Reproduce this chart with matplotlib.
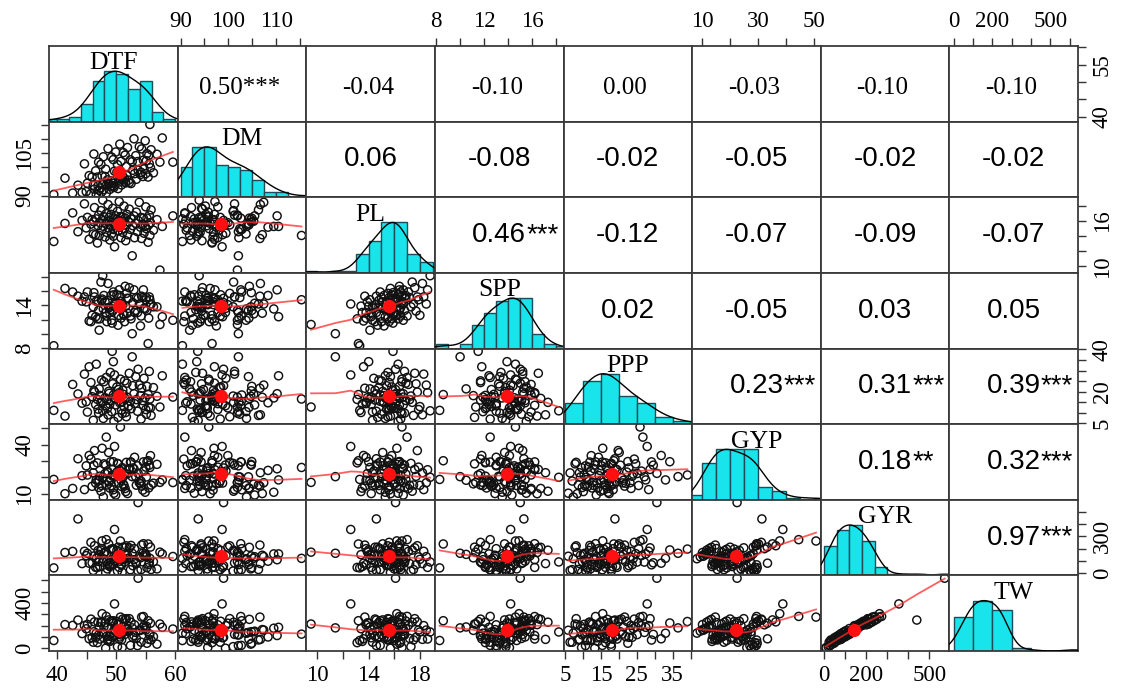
import numpy as np
import matplotlib
matplotlib.use("Agg")
import matplotlib.pyplot as plt
from matplotlib.ticker import FixedLocator, FixedFormatter

plt.rcParams['font.family'] = ['Liberation Serif', 'DejaVu Serif']

names = ["DTF", "DM", "PL", "SPP", "PPP", "GYP", "GYR", "TW"]

dtf = [39.4, 41.3, 42.6, 43.5, 44.2, 44.6, 44.9, 45.1, 45.4, 45.7,
       45.9, 46.1, 46.2, 46.3, 46.5, 46.6, 46.8, 46.9, 47.0, 47.1,
       47.2, 47.4, 47.5, 47.6, 47.7, 47.8, 47.9, 48.1, 48.2, 48.3,
       48.4, 48.5, 48.6, 48.7, 48.8, 48.9, 49.0, 49.1, 49.2, 49.3,
       49.4, 49.5, 49.6, 49.7, 49.8, 49.9, 49.5, 50.1, 50.2, 50.3,
       50.4, 50.5, 50.6, 50.7, 50.8, 50.9, 51.0, 51.1, 51.2, 51.3,
       51.4, 51.5, 51.6, 51.7, 51.8, 51.9, 52.1, 52.2, 52.4, 52.5,
       52.7, 52.8, 53.0, 53.1, 53.3, 53.4, 53.6, 53.7, 53.9, 54.1,
       54.2, 54.3, 54.5, 54.6, 54.7, 54.9, 55.0, 55.1, 55.2, 55.4,
       55.5, 55.6, 55.7, 55.8, 55.9, 56.3, 56.9, 57.4, 57.8, 59.6]

dm = [90.4, 96.2, 90.9, 93.7, 91.1, 101.3, 91.4, 94.4, 97.1, 90.7,
      96.6, 93.7, 104.8, 92.3, 98.8, 90.4, 96.6, 93.5, 101.9, 91.9,
      92.7, 101.1, 91.2, 97.0, 93.9, 103.8, 92.1, 96.8, 99.4, 90.9,
      94.1, 95.6, 106.7, 94.3, 94.0, 92.2, 93.2, 95.3, 103.7, 93.6,
      94.4, 102.8, 92.9, 98.7, 95.5, 105.5, 93.4, 98.4, 101.0, 92.5,
      94.8, 97.2, 108.3, 95.9, 102.2, 93.8, 95.7, 96.9, 105.3, 95.2,
      96.0, 104.4, 94.5, 100.3, 97.1, 107.1, 95.5, 94.6, 102.7, 94.3,
      102.1, 99.0, 110.2, 97.8, 104.2, 95.8, 102.1, 99.0, 107.4, 97.5,
      98.3, 106.6, 96.8, 102.6, 99.5, 109.5, 97.8, 102.4, 104.9, 96.6,
      104.3, 101.3, 115.3, 99.9, 106.3, 98.1, 104.7, 101.9, 110.5, 101.9]

pl = [13.3, 15.7, 17.1, 14.6, 16.1, 18.3, 15.1, 16.5, 13.6, 15.6,
      16.2, 14.3, 15.9, 17.8, 14.2, 16.3, 13.1, 15.4, 16.8, 14.1,
      15.8, 17.4, 14.8, 16.2, 18.8, 15.3, 16.6, 13.9, 15.7, 17.0,
      14.5, 16.0, 18.2, 15.1, 16.5, 13.5, 15.5, 16.9, 14.3, 15.9,
      17.7, 14.9, 16.3, 12.6, 15.4, 16.7, 14.0, 15.8, 17.3, 14.7,
      16.1, 18.6, 15.2, 16.6, 13.8, 15.6, 16.6, 14.5, 16.0, 18.0,
      15.0, 16.4, 13.4, 15.5, 16.9, 14.2, 15.9, 17.6, 14.9, 16.3,
      11.4, 15.4, 16.7, 13.8, 15.7, 17.2, 14.6, 16.1, 18.5, 15.2,
      16.5, 13.7, 15.6, 16.4, 14.4, 15.3, 17.9, 15.0, 16.4, 13.2,
      15.5, 16.8, 14.1, 15.8, 17.5, 14.8, 16.2, 9.5, 15.3, 16.7]

spp = [8.3, 16.4, 15.9, 15.3, 14.6, 15.2, 14.5, 15.9, 11.8, 11.7,
       12.6, 13.8, 15.8, 15.2, 12.4, 14.6, 12.1, 14.6, 13.3, 10.5,
       12.1, 17.3, 14.7, 14.9, 18.2, 13.5, 15.4, 14.5, 13.0, 12.5,
       11.7, 14.7, 17.1, 13.7, 13.7, 13.0, 13.4, 15.4, 11.9, 11.5,
       13.2, 15.9, 15.5, 14.2, 14.2, 14.3, 13.9, 15.5, 13.8, 11.2,
       12.6, 16.2, 15.4, 14.6, 12.2, 14.2, 14.1, 14.1, 12.8, 12.6,
       11.7, 16.7, 13.9, 15.7, 15.0, 12.9, 15.0, 16.5, 12.5, 12.1,
       10.0, 14.4, 16.2, 13.0, 13.3, 15.1, 13.0, 15.0, 14.2, 11.1,
       12.5, 15.3, 15.1, 16.2, 13.6, 13.5, 14.8, 15.1, 13.3, 8.6,
       12.2, 15.2, 14.8, 14.1, 14.2, 13.8, 13.8, 11.3, 12.4, 11.9]

ppp = [11.1, 8.4, 23.4, 18.9, 14.5, 28.3, 15.2, 10.3, 31.8, 24.3,
       17.6, 6.4, 20.4, 19.8, 13.9, 33.0, 16.3, 11.7, 9.8, 21.3,
       18.2, 14.9, 25.5, 15.5, 10.9, 7.3, 24.7, 17.1, 13.3, 26.7,
       16.0, 12.1, 9.0, 20.1, 19.2, 14.1, 29.1, 15.8, 10.5, 39.1,
       23.7, 18.4, 5.9, 27.9, 16.6, 13.7, 34.2, 22.2, 17.9, 7.8,
       21.0, 19.5, 14.7, 25.9, 15.1, 11.3, 9.6, 20.7, 18.7, 12.9,
       25.1, 16.8, 10.1, 8.1, 24.0, 17.3, 13.1, 28.7, 15.4, 11.9,
       36.5, 22.8, 19.0, 14.3, 27.1, 16.2, 10.7, 30.6, 23.1, 18.1,
       7.0, 21.6, 15.7, 13.5, 26.3, 17.0, 11.5, 9.3, 22.5, 18.6,
       12.5, 29.6, 16.5, 12.3, 8.7, 21.9, 17.8, 12.7, 27.5, 17.4]

gyp = [18.8, 10.1, 13.3, 31.4, 21.1, 12.6, 27.1, 21.5, 33.4, 31.2,
       14.6, 22.8, 27.5, 36.4, 16.6, 18.5, 28.9, 18.0, 13.9, 18.3,
       20.8, 11.6, 15.1, 37.8, 20.1, 8.1, 28.3, 22.4, 27.6, 44.6,
       15.4, 23.9, 22.9, 35.2, 17.5, 13.5, 29.5, 18.8, 15.0, 21.5,
       20.7, 12.5, 10.4, 38.9, 20.9, 9.3, 29.6, 23.3, 28.6, 28.3,
       16.7, 24.7, 24.3, 50.8, 18.3, 14.5, 26.0, 20.0, 15.9, 15.2,
       22.4, 13.3, 11.4, 29.2, 22.1, 10.2, 25.3, 24.9, 29.4, 29.4,
       20.5, 25.8, 25.3, 32.3, 20.4, 15.3, 27.1, 22.5, 16.8, 16.1,
       17.8, 14.7, 12.3, 29.5, 23.9, 11.0, 26.3, 20.3, 29.7, 30.2,
       13.6, 27.5, 26.1, 33.3, 15.4, 16.5, 28.0, 17.0, 18.5, 16.9]

gyr = [45, 169, 178, 440, 80, 179, 144, 162, 83, 251,
       85, 24, 141, 224, 49, 122, 49, 185, 97, 154,
       56, 188, 201, 263, 93, 119, 160, 174, 7, 273,
       96, 37, 80, 239, 61, 56, 70, 196, 111, 197,
       70, 200, 139, 355, 104, 135, 190, 186, 20, 212,
       113, 49, 99, 262, 72, 69, 10, 212, 123, 114,
       92, 211, 152, 223, 120, 147, 121, 207, 30, 226,
       163, 63, 111, 200, 92, 80, 25, 572, 136, 126,
       31, 229, 163, 240, 144, 158, 134, 147, 47, 238,
       72, 86, 122, 213, 32, 95, 37, 172, 158, 137]

tw = [70, 210, 203, 250, 131, 201, 173, 212, 85, 258,
      95, 55, 147, 234, 94, 134, 51, 230, 119, 189,
      83, 231, 228, 306, 145, 135, 191, 225, 2, 282,
      108, 70, 80, 251, 107, 62, 74, 242, 134, 237,
      98, 244, 160, 392, 157, 152, 224, 239, 16, 215,
      126, 83, 101, 276, 119, 76, 8, 259, 147, 145,
      122, 256, 174, 262, 175, 166, 148, 262, 27, 231,
      181, 98, 114, 208, 141, 88, 25, 618, 162, 159,
      55, 276, 186, 281, 201, 178, 162, 196, 46, 244,
      81, 124, 126, 222, 75, 104, 38, 215, 186, 171]

# upper triangle, row by row
corr_labels = [
    ["0.50***", "-0.04", "-0.10", "0.00", "-0.03", "-0.10", "-0.10"],
    ["0.06", "-0.08", "-0.02", "-0.05", "-0.02", "-0.02"],
    ["0.46***", "-0.12", "-0.07", "-0.09", "-0.07"],
    ["0.02", "-0.05", "0.03", "0.05"],
    ["0.23***", "0.31***", "0.39***"],
    ["0.18**", "0.32***"],
    ["0.97***"],
]

# histogram breaks
breaks = [np.arange(38, 62, 2), np.arange(90, 118, 2.5), np.arange(9, 20, 1),
          np.arange(8, 20, 1), np.arange(5, 45, 5), np.arange(5, 60, 5),
          np.arange(0, 660, 60), np.arange(0, 800, 100)]

# axis ticks and the labels R kept on horizontal / vertical axes
ticks = [[40, 45, 50, 55, 60], [90, 95, 100, 105, 110, 115], [10, 12, 14, 16, 18],
         [8, 10, 12, 14, 16, 18], [5, 10, 15, 20, 25, 30, 35, 40], [10, 20, 30, 40, 50],
         [0, 100, 200, 300, 400, 500, 600], [0, 100, 200, 300, 400, 500, 600]]
xlabs = [[40, 50, 60], [90, 100, 110], [10, 14, 18], [8, 12, 16],
         [5, 15, 25, 35], [10, 30, 50], [0, 200, 500], [0, 200, 500]]
ylabs = [[40, 55], [90, 105], [10, 16], [8, 14], [5, 20, 40], [10, 40], [0, 300], [0, 400]]

data = [np.array(v, float) for v in (dtf, dm, pl, spp, ppp, gyp, gyr, tw)]
n = len(names)


def lowess(x, y, f=2/3, iters=3):
    order = np.argsort(x, kind="stable")
    x = x[order]
    y = y[order]
    m = len(x)
    r = int(np.ceil(f * m))
    h = np.array([np.sort(np.abs(x - x[i]))[r - 1] for i in range(m)])
    h = np.maximum(h, 1e-9)
    w = np.clip(np.abs((x[:, None] - x[None, :]) / h[:, None]), 0, 1)
    w = (1 - w ** 3) ** 3
    yest = np.zeros(m)
    delta = np.ones(m)
    for _ in range(iters + 1):
        for i in range(m):
            wi = delta * w[i]
            sw = wi.sum()
            sx = (wi * x).sum()
            sy = (wi * y).sum()
            sxx = (wi * x * x).sum()
            sxy = (wi * x * y).sum()
            den = sw * sxx - sx * sx
            if abs(den) < 1e-12:
                yest[i] = sy / sw
            else:
                b = (sw * sxy - sx * sy) / den
                yest[i] = (sy - b * sx) / sw + b * x[i]
        res = y - yest
        s = np.median(np.abs(res))
        if s == 0:
            break
        u = np.clip(res / (6 * s), -1, 1)
        delta = (1 - u ** 2) ** 2
    return x, yest


def density(v):
    sd = v.std(ddof=1)
    q75, q25 = np.percentile(v, [75, 25])
    bw = 1.06 * min(sd, (q75 - q25) / 1.34) * len(v) ** -0.2 * 1.2
    grid = np.linspace(v.min() - 3 * bw, v.max() + 3 * bw, 512)
    d = np.exp(-0.5 * ((grid[:, None] - v[None, :]) / bw) ** 2).sum(axis=1)
    return grid, d / d.max()


lims = []
for v in data:
    pad = 0.04 * (v.max() - v.min())
    lims.append((v.min() - pad, v.max() + pad))

fig, axes = plt.subplots(n, n, figsize=(11.22, 6.92), dpi=100)
fig.subplots_adjust(left=0.0437, right=0.9608, bottom=0.0592, top=0.9335,
                    wspace=0, hspace=0)

sans = ['Liberation Sans Narrow', 'Liberation Sans', 'DejaVu Sans']

for r in range(n):
    for c in range(n):
        ax = axes[r, c]
        ax.set_xlim(lims[c])
        ax.set_xticks([])
        ax.set_yticks([])
        for sp in ax.spines.values():
            sp.set_color('#3a3a3a')
            sp.set_linewidth(1.3)

        if r == c:
            v = data[r]
            counts, edges = np.histogram(v, bins=breaks[r])
            ax.set_ylim(0, 1.5)
            ax.bar(edges[:-1], counts / counts.max(), width=np.diff(edges), align='edge',
                   color='#19e4ec', edgecolor='#1d4d58', linewidth=1.0, zorder=2)
            gx, gy = density(v)
            ax.plot(gx, gy, color='black', lw=1.0, zorder=3)
            ax.text(0.5, 0.77, names[r], transform=ax.transAxes, ha='center',
                    va='center', fontsize=18.5, zorder=4)
        elif r > c:
            x, y = data[c], data[r]
            ax.set_ylim(lims[r])
            ax.scatter(x, y, s=34, facecolors='none', edgecolors='#111111',
                       linewidths=1.05, zorder=2)
            sx, sy = lowess(x, y)
            ax.plot(sx, sy, color='#ff2a2a', lw=1.3, alpha=0.75, zorder=3)
            ax.plot(x.mean(), y.mean(), 'o', color='#ff1010', ms=9.5, mec='none', zorder=4)
        else:
            ax.set_ylim(lims[r])
            lab = corr_labels[r][c - r - 1]
            if r == 0:
                ax.text(0.48, 0.45, lab, transform=ax.transAxes, ha='center',
                        va='center', fontsize=18)
            else:
                num = lab.rstrip('*')
                stars = lab[len(num):]
                t = ax.text(0.5, 0.5, num, transform=ax.transAxes, ha='center',
                            va='center', fontsize=20, family=sans)
                if stars:
                    ax.annotate(stars, xy=(1, 0), xycoords=t, ha='left', va='bottom',
                                fontsize=20, family=sans)


def set_axis(axis, k, keep):
    axis.set_major_locator(FixedLocator(ticks[k]))
    axis.set_major_formatter(FixedFormatter([str(t) if t in keep else '' for t in ticks[k]]))


tick_kw = dict(direction='out', length=6, width=1, color='#333333', labelsize=16.5, pad=4)

# top axis on odd columns, bottom axis on even columns
for c in range(n):
    if c % 2 == 1:
        ax = axes[0, c]
        ax.xaxis.set_ticks_position('top')
    else:
        ax = axes[n - 1, c]
        ax.xaxis.set_ticks_position('bottom')
    set_axis(ax.xaxis, c, xlabs[c])
    ax.tick_params(axis='x', **tick_kw)

# left axis on odd rows, right axis on even rows
for r in range(n):
    if r % 2 == 1:
        ax = axes[r, 0]
        ax.yaxis.set_ticks_position('left')
    else:
        ax = axes[r, n - 1]
        ax.yaxis.set_ticks_position('right')
    set_axis(ax.yaxis, r, ylabs[r])
    ax.tick_params(axis='y', labelrotation=90, **tick_kw)
    for lab in ax.get_yticklabels():
        lab.set_va('center')

fig.savefig('out.png', dpi=100)
